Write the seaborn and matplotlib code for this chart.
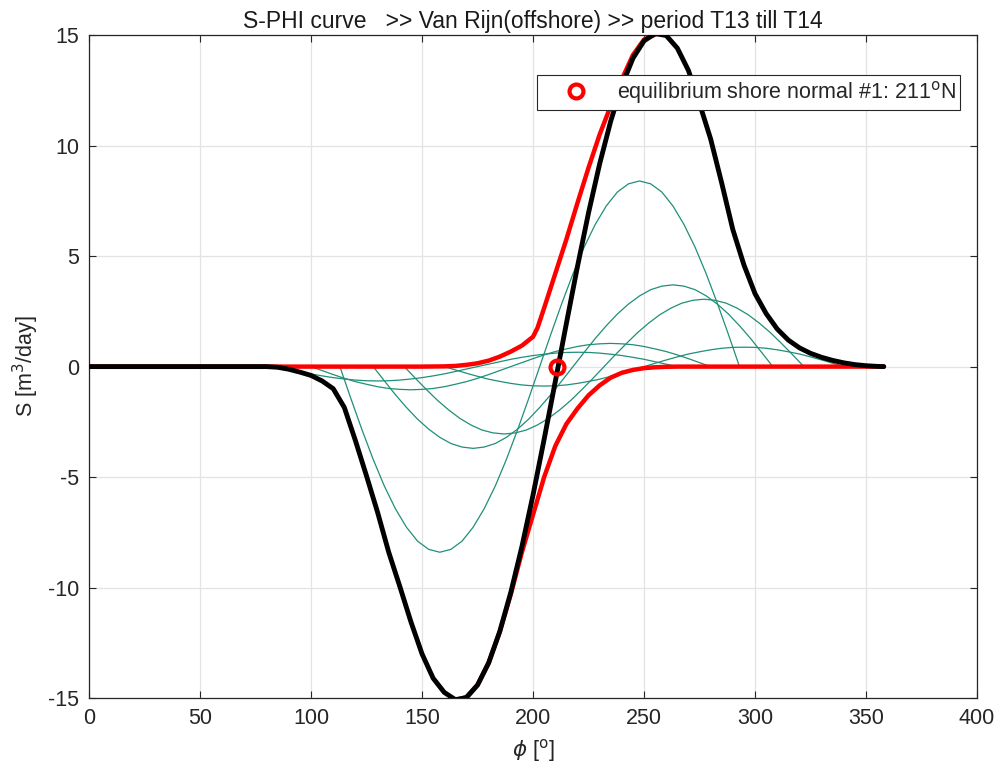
import numpy as np
import pandas as pd
import matplotlib
matplotlib.use("Agg")
import matplotlib.pyplot as plt
import seaborn as sns

# S-phi curve, Van Rijn (offshore), period T13 till T14

# --- data -----------------------------------------------------------------
# thin teal curves: one per wave condition (phi in degrees, S in m3/day)
phi_a = np.arange(113, 294, 5)
s_a = [0, -1.46, -2.87, -4.2, -5.4, -6.43, -7.27, -7.9, -8.27, -8.4, -8.27, -7.9, -7.27,
       -6.43, -5.4, -4.2, -2.87, -1.46, 0, 1.46, 2.87, 4.2, 5.4, 6.43, 7.27, 7.9, 8.27,
       8.4, 8.27, 7.9, 7.27, 6.43, 5.4, 4.2, 2.87, 1.46, 0]

phi_b = np.arange(128, 309, 5)
s_b = [0, -0.64, -1.27, -1.85, -2.38, -2.83, -3.2, -3.48, -3.64, -3.7, -3.64, -3.48, -3.2,
       -2.83, -2.38, -1.85, -1.27, -0.64, 0, 0.64, 1.27, 1.85, 2.38, 2.83, 3.2, 3.48, 3.64,
       3.7, 3.64, 3.48, 3.2, 2.83, 2.38, 1.85, 1.27, 0.64, 0]

phi_c = np.arange(142, 323, 5)
s_c = [0, -0.53, -1.04, -1.53, -1.96, -2.34, -2.64, -2.87, -3.0, -3.05, -3.0, -2.87, -2.64,
       -2.34, -1.96, -1.53, -1.04, -0.53, 0, 0.53, 1.04, 1.53, 1.96, 2.34, 2.64, 2.87, 3.0,
       3.05, 3.0, 2.87, 2.64, 2.34, 1.96, 1.53, 1.04, 0.53, 0]

phi_d = np.arange(100, 281, 5)
s_d = [0, -0.18, -0.36, -0.53, -0.68, -0.8, -0.91, -0.99, -1.03, -1.05, -1.03, -0.99, -0.91,
       -0.8, -0.68, -0.53, -0.36, -0.18, 0, 0.18, 0.36, 0.53, 0.68, 0.8, 0.91, 0.99, 1.03,
       1.05, 1.03, 0.99, 0.91, 0.8, 0.68, 0.53, 0.36, 0.18, 0]

phi_e = np.arange(85, 266, 5)
s_e = [0, -0.11, -0.22, -0.33, -0.42, -0.5, -0.56, -0.61, -0.64, -0.65, -0.64, -0.61, -0.56,
       -0.5, -0.42, -0.33, -0.22, -0.11, 0, 0.11, 0.22, 0.33, 0.42, 0.5, 0.56, 0.61, 0.64,
       0.65, 0.64, 0.61, 0.56, 0.5, 0.42, 0.33, 0.22, 0.11, 0]

phi_f = np.arange(160, 341, 5)
s_f = [0, -0.15, -0.3, -0.44, -0.57, -0.67, -0.76, -0.83, -0.87, -0.88, -0.87, -0.83, -0.76,
       -0.67, -0.57, -0.44, -0.3, -0.15, 0, 0.15, 0.3, 0.44, 0.57, 0.67, 0.76, 0.83, 0.87,
       0.88, 0.87, 0.83, 0.76, 0.67, 0.57, 0.44, 0.3, 0.15, 0]

# total S-phi curve (thick black)
phi_total = list(range(0, 356, 5)) + [358]
s_total = [0] * 17 + [
    -0.03, -0.12, -0.25, -0.4, -0.65, -1.0, -1.85, -3.35, -4.95, -6.6, -8.4, -9.95,
    -11.55, -13.0, -14.1, -14.74, -15.07, -14.98, -14.41, -13.41, -11.99, -10.21, -8.14,
    -5.81, -3.29, -0.69, 1.94, 4.52, 6.96, 9.17, 11.11, 12.71, 13.95, 14.74, 15.07, 14.98,
    14.41, 13.4, 11.9, 10.3, 8.3, 6.2, 4.6, 3.3, 2.4, 1.7, 1.2, 0.85, 0.6, 0.42, 0.28,
    0.17, 0.09, 0.04, 0.01, 0]

# red envelope curves
phi_red_up = [0, 150, 160, 165, 170, 175, 180, 185, 190, 195, 200, 202, 205, 210, 215, 220,
              225, 230, 235, 240, 245, 250, 256]
s_red_up = [0, 0, 0.01, 0.03, 0.08, 0.15, 0.27, 0.45, 0.68, 0.95, 1.35, 1.75, 2.65, 4.2,
            5.75, 7.4, 9.0, 10.5, 11.8, 13.0, 14.1, 14.8, 15.07]

phi_red_low = [166, 170, 175, 180, 185, 190, 195, 200, 205, 210, 215, 220, 225, 230, 235,
               240, 245, 250, 255, 260, 265, 358]
s_red_low = [-15.07, -14.95, -14.4, -13.4, -12.0, -10.3, -8.4, -6.7, -5.0, -3.6, -2.6, -1.9,
             -1.3, -0.85, -0.5, -0.28, -0.15, -0.07, -0.03, -0.01, 0, 0]

eq_phi = [211]
eq_s = [0]
eq_label = 'equilibrium shore normal #1: 211$^{\\rm o}$N'

# --- frames ---------------------------------------------------------------
parts = []
for name, p, s in [('A', phi_a, s_a), ('B', phi_b, s_b), ('C', phi_c, s_c),
                   ('D', phi_d, s_d), ('E', phi_e, s_e), ('F', phi_f, s_f)]:
    parts.append(pd.DataFrame({'phi': p, 'S': s, 'curve': name}))
teal_df = pd.concat(parts, ignore_index=True)
total_df = pd.DataFrame({'phi': phi_total, 'S': s_total})
red_up_df = pd.DataFrame({'phi': phi_red_up, 'S': s_red_up})
red_low_df = pd.DataFrame({'phi': phi_red_low, 'S': s_red_low})

# --- style ----------------------------------------------------------------
sns.set_style('ticks')
plt.rcParams['font.family'] = ['Liberation Sans', 'DejaVu Sans']
plt.rcParams['mathtext.fontset'] = 'dejavusans'
plt.rcParams['axes.unicode_minus'] = False

teal = '#1f8f78'
fs = 15.5

fig = plt.figure(figsize=(9.98, 7.8), dpi=100)
ax = fig.add_axes([0.0892, 0.105, 0.8898, 0.850])

sns.lineplot(data=teal_df, x='phi', y='S', units='curve', estimator=None, sort=False,
             color=teal, linewidth=0.9, ax=ax, legend=False, zorder=3)
sns.lineplot(data=red_up_df, x='phi', y='S', estimator=None, sort=False,
             color='#ff0000', linewidth=3.2, ax=ax, zorder=4)
sns.lineplot(data=red_low_df, x='phi', y='S', estimator=None, sort=False,
             color='#ff0000', linewidth=3.2, ax=ax, zorder=4)
sns.lineplot(data=total_df, x='phi', y='S', estimator=None, sort=False,
             color='black', linewidth=3.5, ax=ax, zorder=5)
ax.plot(eq_phi, eq_s, linestyle='none', marker='o', markersize=10,
        markerfacecolor='none', markeredgecolor='#ff0000', markeredgewidth=3,
        zorder=6, label=eq_label)

ax.set_xlim(0, 400)
ax.set_ylim(-15, 15)
ax.set_xticks(np.arange(0, 401, 50))
ax.set_yticks(np.arange(-15, 16, 5))
ax.grid(True, color='#e3e3e3', linewidth=0.9)
ax.set_axisbelow(True)
for sp in ax.spines.values():
    sp.set_visible(True)
    sp.set_color('#262626')
    sp.set_linewidth(0.9)
ax.tick_params(direction='in', top=True, right=True, length=5, width=0.8, pad=7,
               labelsize=fs, colors='#262626', labelcolor='#262626')

ax.set_title('S-PHI curve   >> Van Rijn(offshore) >> period T13 till T14',
             fontsize=16.5, pad=5, color='#1a1a1a')
ax.set_xlabel('$\\phi$ [$^{\\rm o}$]', fontsize=fs, labelpad=6, color='#262626')
ax.set_ylabel('S [m$^3$/day]', fontsize=fs, labelpad=5, color='#262626')

leg = ax.legend(loc='upper right', bbox_to_anchor=(0.981, 0.94), borderaxespad=0,
                fontsize=fs, frameon=True, fancybox=False, handlelength=3.2,
                borderpad=0.2, handletextpad=0.3)
leg.get_frame().set_edgecolor('#262626')
leg.get_frame().set_linewidth(0.8)
leg.get_frame().set_facecolor('white')
leg.get_frame().set_alpha(1)
leg.set_zorder(10)

fig.savefig('out.png', dpi=100, facecolor='white')
